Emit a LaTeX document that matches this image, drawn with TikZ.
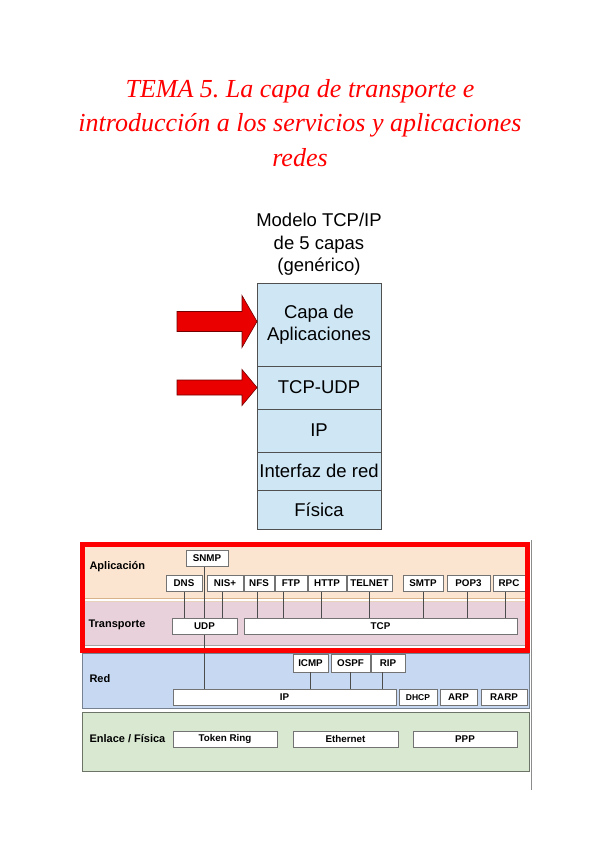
\documentclass[tikz,border=0pt]{standalone}
\usepackage{fontspec}
\setmainfont{Liberation Sans}
\newfontfamily\tituloserif{Liberation Serif}
\usetikzlibrary{positioning,calc}
\definecolor{rojotema}{rgb}{1,0,0}
\definecolor{azulcapa}{RGB}{207,231,245}
\definecolor{bordecapa}{RGB}{80,80,80}
\definecolor{rojoflecha}{RGB}{235,0,0}
\definecolor{melocoton}{RGB}{252,229,208}
\definecolor{rosado}{RGB}{232,209,219}
\definecolor{azulred}{RGB}{199,217,242}
\definecolor{verdeenlace}{RGB}{217,233,209}
\tikzset{
  capa/.style={
    draw=bordecapa,
    fill=azulcapa,
    minimum width=124pt,
    inner sep=0pt,
    outer sep=0pt,
    align=center,
    line width=0.9pt,
    font=\fontsize{18.5}{22}\selectfont
  },
  flecha/.style={
    fill=rojoflecha,
    draw=red!45!black,
    line width=0.6pt
  },
  caja/.style={
    draw=black!55,
    fill=white,
    minimum height=16.5pt,
    inner sep=0pt,
    outer sep=0pt,
    line width=0.7pt,
    font=\fontsize{9.8}{10}\selectfont\bfseries
  },
  banda/.style={
    anchor=west,
    font=\fontsize{11}{12}\selectfont\bfseries
  },
  enlace/.style={
    draw=black!70,
    line width=0.6pt
  }
}
\begin{document}
\begin{tikzpicture}[x=1pt, y=-1pt, node distance=1pt]
\useasboundingbox (0,0) rectangle (600,848);
% titulo
\node[font=\tituloserif\itshape\fontsize{26}{34.5}\selectfont, text=rojotema, align=center, anchor=base] (titulo) at (300,166) {TEMA 5.\ La capa de transporte e\\introducción a los servicios y aplicaciones\\redes};

% pila de 5 capas
\node[capa, minimum height=83pt, anchor=north west] (apl) at (257,283) {Capa de\\Aplicaciones};
\node[capa, minimum height=43pt, below=0pt of apl] (tcpudp) {TCP-UDP};
\node[capa, minimum height=43pt, below=0pt of tcpudp] (ip) {IP};
\node[capa, minimum height=38pt, below=0pt of ip] (interfaz) {Interfaz de red};
\node[capa, minimum height=39pt, below=0pt of interfaz] (fisica) {Física};
\node[above=4pt of apl, align=center, font=\fontsize{18.5}{22.5}\selectfont] (modelo) {Modelo TCP/IP\\de 5 capas\\(genérico)};
\draw[flecha] ([yshift=3pt]apl.west) -- ++(-15,-26) -- ++(0,16) -- ++(-65,0) -- ++(0,20) -- ++(65,0) -- ++(0,16) -- cycle;
\draw[flecha] (tcpudp.west) -- ++(-15,-18) -- ++(0,10.5) -- ++(-65,0) -- ++(0,15) -- ++(65,0) -- ++(0,10.5) -- cycle;

% bandas
\fill[melocoton] (83,547) rectangle (526,598);
\fill[rosado] (83,601) rectangle (526,646);
\draw[brown!60, line width=0.8pt] (83,598.5) -- (526,598.5);
\draw[brown!35, line width=0.5pt] (83,601) -- (526,601);
\draw[black!35, line width=0.6pt] (83,645.5) -- (526,645.5);
\draw[draw=azulred!60!black, fill=azulred] (82,653) rectangle (529,708);
\draw[draw=verdeenlace!50!black, fill=verdeenlace] (82,712) rectangle (529,771);
\draw[black!45, line width=1pt] (531.5,540) -- (531.5,790);

\node[banda] (lapl) at (86,567) {Aplicación};
\node[banda] (ltra) at (85,625) {Transporte};
\node[banda] (lred) at (86,679) {Red};
\node[banda] (lenl) at (86,739) {Enlace / Física};

% aplicacion
\node[caja, minimum width=42pt, anchor=north west] (snmp) at (186,550) {SNMP};
\node[caja, minimum width=36pt, anchor=north west] (dns) at (166,575) {DNS};
\node[caja, minimum width=36pt, right=5pt of dns] (nis) {NIS+};
\node[caja, minimum width=30pt, right=of nis] (nfs) {NFS};
\node[caja, minimum width=32pt, right=of nfs] (ftp) {FTP};
\node[caja, minimum width=38pt, right=of ftp] (http) {HTTP};
\node[caja, minimum width=45pt, right=of http] (telnet) {TELNET};
\node[caja, minimum width=40pt, right=11pt of telnet] (smtp) {SMTP};
\node[caja, minimum width=43pt, right=4pt of smtp] (pop) {POP3};
\node[caja, minimum width=32pt, right=3pt of pop] (rpc) {RPC};

% transporte
\node[caja, minimum width=65pt, anchor=north west] (udp) at (172,618) {UDP};
\node[caja, minimum width=273pt, right=7pt of udp] (tcp) {TCP};

% red
\node[caja, minimum width=35pt, minimum height=18pt, anchor=north west] (icmp) at (293,654) {ICMP};
\node[caja, minimum width=39pt, minimum height=18pt, right=3pt of icmp] (ospf) {OSPF};
\node[caja, minimum width=34pt, minimum height=18pt, right=of ospf] (rip) {RIP};
\node[caja, minimum width=223pt, anchor=north west] (ipcaja) at (173,689) {IP};
\node[caja, minimum width=38pt, right=3pt of ipcaja, font=\fontsize{8.5}{9}\selectfont\bfseries] (dhcp) {DHCP};
\node[caja, minimum width=37pt, right=3pt of dhcp] (arp) {ARP};
\node[caja, minimum width=46pt, right=4pt of arp] (rarp) {RARP};

% enlace / fisica
\node[caja, minimum width=104pt, anchor=north west] (token) at (173,731) {Token Ring};
\node[caja, minimum width=105pt, right=16pt of token] (ether) {Ethernet};
\node[caja, minimum width=104pt, right=15pt of ether] (ppp) {PPP};

% conexiones
\draw[enlace] (dns.south) -- (dns.south |- udp.north);
\draw[enlace] (snmp.south -| udp.north) -- (udp.north);
\draw[enlace] ([xshift=-3pt]nis.south) -- ([xshift=-3pt]nis.south |- udp.north);
\foreach \caja/\dx in {nfs/-2, ftp/-8, http/-6, telnet/0, smtp/0, pop/-1, rpc/-4}
  \draw[enlace] ([xshift=\dx pt]\caja.south) -- ([xshift=\dx pt]\caja.south |- tcp.north);
\draw[enlace] (udp.south) -- (udp.south |- ipcaja.north);
\foreach \caja/\dx in {icmp/0, ospf/0, rip/-6}
  \draw[enlace] ([xshift=\dx pt]\caja.south) -- ([xshift=\dx pt]\caja.south |- ipcaja.north);

% marco rojo
\draw[red, line width=5pt] (82.5,544) rectangle (527.5,650);
\end{tikzpicture}
\end{document}
